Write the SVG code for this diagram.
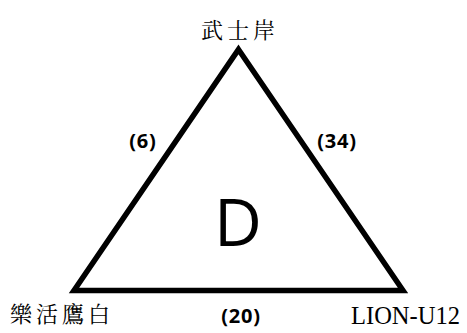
<svg xmlns="http://www.w3.org/2000/svg" width="467" height="333" viewBox="0 0 467 333">
<style>
.cjk{font-family:"Noto Serif CJK TC","Noto Sans CJK TC",serif;font-size:22px;fill:#000;letter-spacing:4px}
.mono{font-family:"Liberation Serif",serif;font-size:26px;fill:#000}
.lbl{font-family:"Open Sans","Noto Sans",sans-serif;font-weight:bold;font-size:20px;fill:#000;letter-spacing:0.8px}
.big{font-family:"Open Sans","Noto Sans",sans-serif;font-size:66px;fill:#000}
</style>
<rect width="467" height="333" fill="#fff"/>
<g id="connectors">
<polygon points="238.5,49.5 403,290.5 74,290.5" fill="none" stroke="#000" stroke-width="5.5" stroke-linejoin="miter"/>
</g>
<g id="node-top"><text class="cjk" x="240" y="38" text-anchor="middle">武士岸</text></g>
<g id="node-left"><text class="cjk" x="10" y="322">樂活鷹白</text></g>
<g id="node-right"><text class="mono" x="351" y="324" textLength="109" lengthAdjust="spacingAndGlyphs">LION-U12</text></g>
<g id="node-center"><text class="big" x="238" y="246" text-anchor="middle">D</text></g>
<g id="labels">
<text class="lbl" x="143" y="148" text-anchor="middle">(6)</text>
<text class="lbl" x="337" y="148" text-anchor="middle">(34)</text>
<text class="lbl" x="241" y="323" text-anchor="middle">(20)</text>
</g>
</svg>
